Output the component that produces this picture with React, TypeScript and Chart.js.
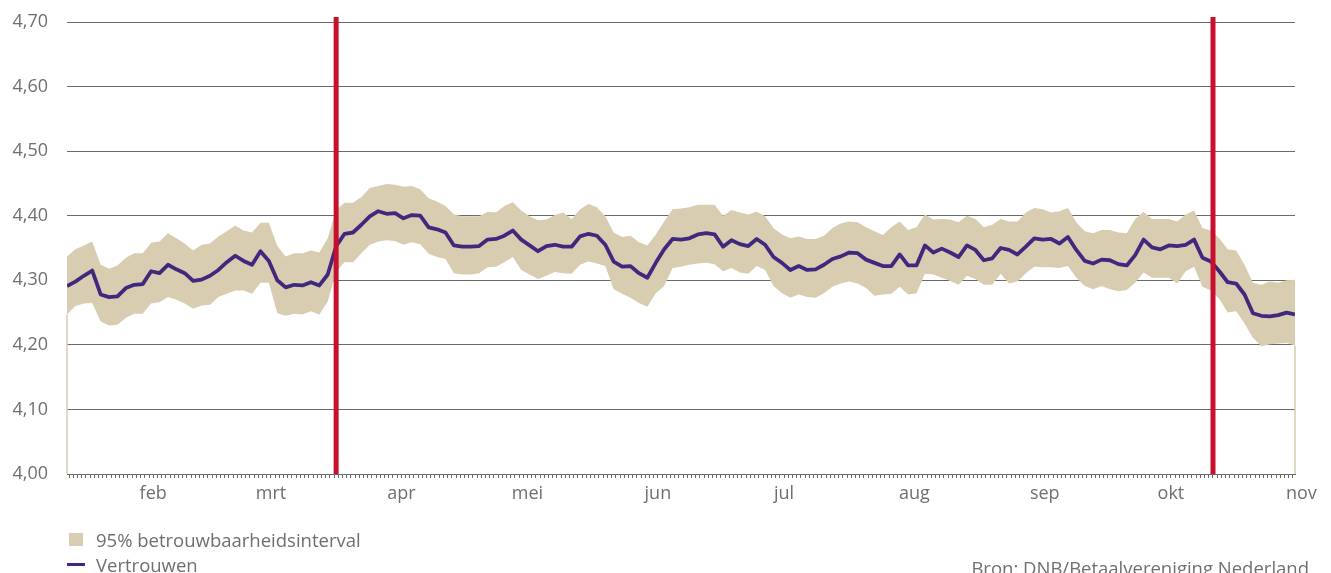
import React, { useEffect, useRef } from 'react';
import { Chart, registerables } from 'chart.js';

Chart.register(...registerables);

// x = day of year (1 januari = 0); observations every 2 days
const FIRST_DAY = 10.5;
const STEP_DAYS = 2;

const MONTH_STARTS = [31, 59, 90, 120, 151, 181, 212, 243, 273, 304];
const MONTH_LABELS = ['feb', 'mrt', 'apr', 'mei', 'jun', 'jul', 'aug', 'sep', 'okt', 'nov'];

// red event markers (day of year)
const EVENT_DAYS = [74.5, 283];

const Y_MIN = 4.0;
const Y_MAX = 4.7;
const Y_STEP = 0.1;

const vertrouwen = [
  4.291, 4.298, 4.307, 4.315, 4.278, 4.274, 4.275, 4.288, 4.293, 4.294, 4.314, 4.311, 4.324, 4.317, 4.311, 4.299, 4.301, 4.307, 4.316, 4.328, 4.338, 4.330, 4.324, 4.345, 4.330, 4.300, 4.289, 4.293, 4.292,
  4.297, 4.292, 4.309, 4.353, 4.372, 4.374, 4.386, 4.399, 4.407, 4.403, 4.404, 4.396, 4.401, 4.400, 4.382, 4.379, 4.374, 4.354, 4.352, 4.352, 4.353, 4.363, 4.364, 4.369, 4.377, 4.363, 4.354, 4.345, 4.353, 4.355,
  4.352, 4.352, 4.368, 4.372, 4.369, 4.355, 4.329, 4.321, 4.322, 4.311, 4.304, 4.327, 4.348, 4.364, 4.363, 4.365, 4.371, 4.373, 4.371, 4.352, 4.362, 4.356, 4.353, 4.364, 4.355, 4.336, 4.327, 4.316, 4.322,
  4.316, 4.317, 4.324, 4.333, 4.337, 4.343, 4.342, 4.332, 4.327, 4.322, 4.322, 4.340, 4.323, 4.323, 4.354, 4.343, 4.349, 4.343, 4.336, 4.354, 4.347, 4.331, 4.334, 4.350, 4.347, 4.340, 4.352, 4.365, 4.363,
  4.364, 4.357, 4.367, 4.347, 4.330, 4.326, 4.332, 4.331, 4.325, 4.323, 4.339, 4.363, 4.351, 4.348, 4.354, 4.353, 4.355, 4.363, 4.335, 4.329, 4.314, 4.297, 4.295, 4.278, 4.249, 4.245, 4.244, 4.246, 4.250, 4.247,
];

const bovengrens = [
  4.337, 4.348, 4.354, 4.360, 4.324, 4.318, 4.323, 4.335, 4.342, 4.342, 4.358, 4.360, 4.373, 4.365, 4.357, 4.346, 4.355, 4.357, 4.368, 4.376, 4.385, 4.377, 4.374, 4.389, 4.389, 4.353, 4.337, 4.342, 4.342,
  4.346, 4.343, 4.365, 4.409, 4.420, 4.420, 4.429, 4.443, 4.446, 4.449, 4.448, 4.445, 4.446, 4.441, 4.427, 4.422, 4.415, 4.402, 4.399, 4.399, 4.399, 4.406, 4.405, 4.415, 4.421, 4.408, 4.399, 4.393, 4.394, 4.401,
  4.405, 4.395, 4.410, 4.418, 4.413, 4.399, 4.374, 4.367, 4.369, 4.359, 4.354, 4.371, 4.391, 4.410, 4.411, 4.413, 4.417, 4.417, 4.417, 4.400, 4.409, 4.405, 4.402, 4.406, 4.399, 4.381, 4.371, 4.365, 4.368,
  4.364, 4.364, 4.369, 4.381, 4.388, 4.391, 4.390, 4.382, 4.376, 4.370, 4.382, 4.391, 4.378, 4.382, 4.402, 4.394, 4.395, 4.394, 4.390, 4.400, 4.395, 4.382, 4.386, 4.395, 4.391, 4.391, 4.405, 4.412, 4.410,
  4.405, 4.407, 4.412, 4.390, 4.376, 4.373, 4.378, 4.378, 4.374, 4.373, 4.395, 4.406, 4.395, 4.395, 4.395, 4.391, 4.402, 4.408, 4.381, 4.377, 4.365, 4.348, 4.346, 4.324, 4.296, 4.293, 4.298, 4.296, 4.300, 4.301,
];

const ondergrens = [
  4.247, 4.260, 4.264, 4.265, 4.236, 4.230, 4.231, 4.242, 4.248, 4.248, 4.264, 4.266, 4.274, 4.270, 4.264, 4.256, 4.261, 4.262, 4.274, 4.279, 4.284, 4.284, 4.279, 4.296, 4.296, 4.249, 4.245, 4.248, 4.247,
  4.252, 4.247, 4.267, 4.314, 4.328, 4.328, 4.342, 4.355, 4.360, 4.362, 4.361, 4.355, 4.359, 4.356, 4.341, 4.336, 4.333, 4.311, 4.309, 4.309, 4.311, 4.320, 4.321, 4.328, 4.336, 4.316, 4.309, 4.302, 4.307, 4.313,
  4.311, 4.310, 4.324, 4.329, 4.326, 4.322, 4.286, 4.279, 4.273, 4.265, 4.259, 4.280, 4.291, 4.319, 4.321, 4.324, 4.326, 4.327, 4.325, 4.314, 4.319, 4.312, 4.310, 4.322, 4.316, 4.291, 4.280, 4.273, 4.278,
  4.274, 4.273, 4.280, 4.290, 4.295, 4.298, 4.295, 4.288, 4.276, 4.278, 4.279, 4.290, 4.278, 4.280, 4.310, 4.309, 4.304, 4.299, 4.293, 4.307, 4.302, 4.293, 4.293, 4.310, 4.295, 4.298, 4.311, 4.321, 4.320,
  4.320, 4.319, 4.322, 4.304, 4.291, 4.286, 4.291, 4.286, 4.283, 4.285, 4.296, 4.312, 4.304, 4.304, 4.304, 4.295, 4.314, 4.321, 4.290, 4.284, 4.271, 4.250, 4.252, 4.233, 4.211, 4.198, 4.201, 4.202, 4.203, 4.199,
];

const BAND_COLOR = '#d8cdb1';
const LINE_COLOR = '#41287f';
const RED = '#c8102e';
const TEXT_COLOR = '#6f6f6f';
const GRID_COLOR = '#6a6a6a';
const FONT = '"Open Sans", "Noto Sans", sans-serif';
const FONT_SIZE = 18;

const days = vertrouwen.map((_, i) => FIRST_DAY + i * STEP_DAYS);
const X_MIN = days[0];
const X_MAX = days[days.length - 1];

const eventLines = {
  id: 'eventLines',
  afterDatasetsDraw(chart: any) {
    const { ctx, chartArea, scales } = chart;
    ctx.save();
    ctx.strokeStyle = RED;
    ctx.lineWidth = 5;
    EVENT_DAYS.forEach((d) => {
      const x = scales.x.getPixelForValue(d);
      ctx.beginPath();
      ctx.moveTo(x, chartArea.top - 5);
      ctx.lineTo(x, chartArea.bottom);
      ctx.stroke();
    });
    ctx.restore();
  },
};

const bandEdges = {
  id: 'bandEdges',
  beforeDatasetsDraw(chart: any) {
    const { ctx, chartArea, scales } = chart;
    ctx.save();
    ctx.strokeStyle = BAND_COLOR;
    ctx.lineWidth = 1.5;
    [0, days.length - 1].forEach((i) => {
      const x = scales.x.getPixelForValue(days[i]);
      const y = scales.y.getPixelForValue(ondergrens[i]);
      ctx.beginPath();
      ctx.moveTo(x, y);
      ctx.lineTo(x, chartArea.bottom);
      ctx.stroke();
    });
    ctx.restore();
  },
};

export default function App() {
  const canvasRef = useRef<HTMLCanvasElement | null>(null);

  useEffect(() => {
    if (!canvasRef.current) return;
    const toXY = (arr: number[]) => arr.map((v, i) => ({ x: days[i], y: v }));
    const chart = new Chart(canvasRef.current, {
      type: 'line',
      data: {
        datasets: [
          {
            label: 'Vertrouwen',
            data: toXY(vertrouwen),
            borderColor: LINE_COLOR,
            borderWidth: 3.8,
            pointRadius: 0,
            tension: 0,
            fill: false,
            borderJoinStyle: 'round',
          },
          {
            label: 'ondergrens',
            data: toXY(ondergrens),
            borderWidth: 0,
            borderColor: 'transparent',
            pointRadius: 0,
            tension: 0,
            fill: false,
          },
          {
            label: '95% betrouwbaarheidsinterval',
            data: toXY(bovengrens),
            borderWidth: 0,
            borderColor: 'transparent',
            backgroundColor: BAND_COLOR,
            pointRadius: 0,
            tension: 0,
            fill: '-1',
          },
        ],
      },
      options: {
        animation: false,
        responsive: false,
        maintainAspectRatio: false,
        layout: { padding: { left: 0, right: 36, top: 22, bottom: 0 } },
        plugins: {
          legend: { display: false },
          tooltip: { enabled: false },
        },
        scales: {
          x: {
            type: 'linear',
            min: X_MIN,
            max: X_MAX,
            afterBuildTicks: (scale: any) => {
              const ticks: { value: number }[] = [];
              for (let d = Math.ceil(X_MIN); d <= Math.floor(X_MAX); d++) ticks.push({ value: d });
              MONTH_STARTS.forEach((m) => {
                if (m > Math.floor(X_MAX)) ticks.push({ value: m });
              });
              scale.ticks = ticks;
            },
            afterFit: (scale: any) => {
              scale.height = 99;
            },
            grid: {
              drawOnChartArea: false,
              drawTicks: true,
              tickLength: 4,
              color: (ctx: any) => (ctx.tick && ctx.tick.value > X_MAX ? 'rgba(0,0,0,0)' : GRID_COLOR),
              lineWidth: 1,
            },
            border: { display: true, color: GRID_COLOR, width: 1 },
            ticks: {
              autoSkip: false,
              maxRotation: 0,
              minRotation: 0,
              padding: 5,
              color: TEXT_COLOR,
              font: { family: FONT, size: FONT_SIZE },
              callback: (value: any) => {
                const idx = MONTH_STARTS.indexOf(Number(value));
                return idx >= 0 ? MONTH_LABELS[idx] : '';
              },
            },
          },
          y: {
            min: Y_MIN,
            max: Y_MAX,
            afterFit: (scale: any) => {
              scale.width = 67;
            },
            grid: {
              color: GRID_COLOR,
              lineWidth: 1,
              drawTicks: true,
              tickLength: 8,
              tickColor: 'rgba(0,0,0,0)',
            },
            border: { display: false },
            ticks: {
              stepSize: Y_STEP,
              padding: 11,
              color: TEXT_COLOR,
              font: { family: FONT, size: FONT_SIZE },
              callback: (value: any) => Number(value).toFixed(2).replace('.', ','),
            },
          },
        },
      },
      plugins: [bandEdges, eventLines],
    });
    return () => chart.destroy();
  }, []);

  const textStyle: React.CSSProperties = {
    position: 'absolute',
    fontFamily: FONT,
    fontSize: 18.5,
    color: TEXT_COLOR,
    whiteSpace: 'nowrap',
    lineHeight: 'normal',
  };

  return (
    <div style={{ position: 'absolute', left: 0, top: 0, width: 1331, height: 573, overflow: 'hidden', background: '#fff' }}>
      <canvas ref={canvasRef} width={1331} height={573} style={{ display: 'block', width: 1331, height: 573 }} />
      <div style={{ position: 'absolute', left: 69, top: 533, width: 14, height: 13, background: BAND_COLOR }} />
      <div style={{ ...textStyle, left: 96, top: 527 }}>95% betrouwbaarheidsinterval</div>
      <div style={{ position: 'absolute', left: 67, top: 563, width: 18, height: 3, background: LINE_COLOR }} />
      <div style={{ ...textStyle, left: 96, top: 552 }}>Vertrouwen</div>
      <div style={{ ...textStyle, right: 22, top: 555 }}>Bron: DNB/Betaalvereniging Nederland</div>
    </div>
  );
}
